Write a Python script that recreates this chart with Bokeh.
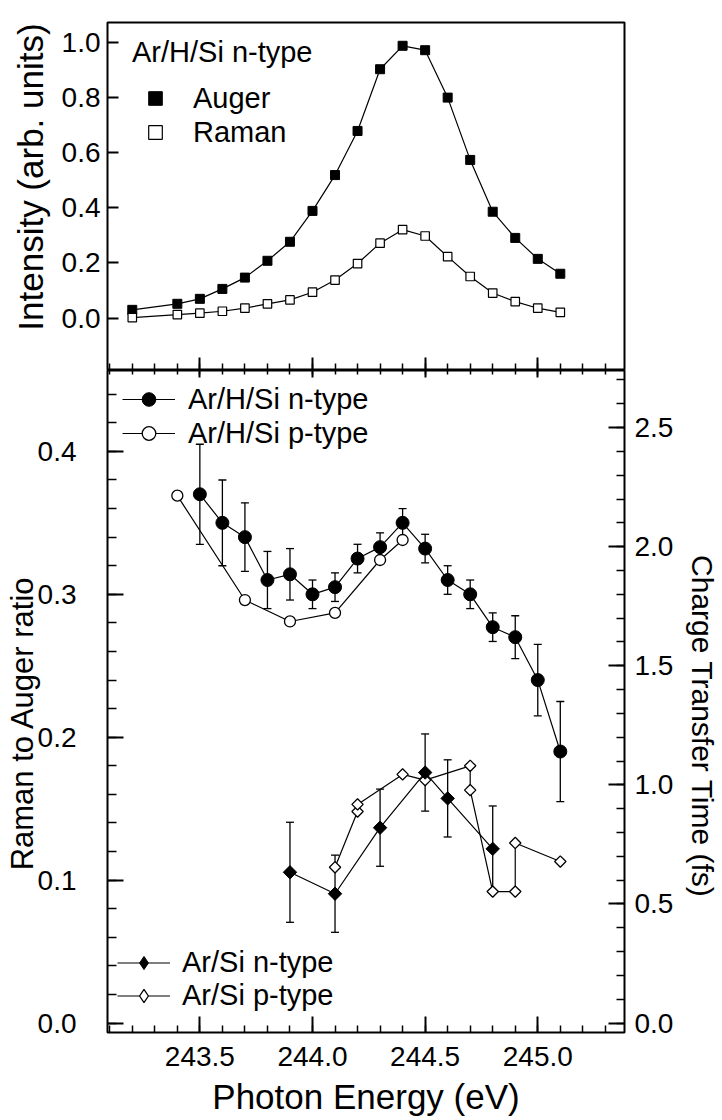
import math
from bokeh.plotting import figure
from bokeh.models import (Range1d, LinearAxis, SingleIntervalTicker, NumeralTickFormatter,
                          Legend, LegendItem, Whisker, TeeHead, ColumnDataSource)
from bokeh.layouts import column
from bokeh.embed import file_html
from bokeh.resources import INLINE

# ---------------- data ----------------
energy_top = [243.2, 243.4, 243.5, 243.6, 243.7, 243.8, 243.9, 244.0, 244.1, 244.2,
              244.3, 244.4, 244.5, 244.6, 244.7, 244.8, 244.9, 245.0, 245.1]
auger = [0.030, 0.052, 0.070, 0.106, 0.147, 0.208, 0.277, 0.389, 0.519, 0.679,
         0.903, 0.988, 0.972, 0.800, 0.574, 0.386, 0.291, 0.215, 0.161]
raman = [0.002, 0.013, 0.018, 0.025, 0.036, 0.052, 0.066, 0.094, 0.138, 0.198,
         0.272, 0.321, 0.298, 0.223, 0.151, 0.091, 0.060, 0.036, 0.021]

arhsi_n_x = [243.5, 243.6, 243.7, 243.8, 243.9, 244.0, 244.1, 244.2, 244.3, 244.4,
             244.5, 244.6, 244.7, 244.8, 244.9, 245.0, 245.1]
arhsi_n = [0.370, 0.350, 0.340, 0.310, 0.314, 0.300, 0.305, 0.325, 0.333, 0.350,
           0.332, 0.310, 0.300, 0.277, 0.270, 0.240, 0.190]
arhsi_n_err = [0.035, 0.030, 0.024, 0.020, 0.018, 0.010, 0.010, 0.010, 0.010, 0.010,
               0.010, 0.010, 0.010, 0.010, 0.015, 0.025, 0.035]

arhsi_p_x = [243.4, 243.7, 243.9, 244.1, 244.3, 244.4]
arhsi_p = [0.369, 0.296, 0.281, 0.287, 0.324, 0.338]

arsi_n_x = [243.9, 244.1, 244.3, 244.5, 244.6, 244.8]
arsi_n = [0.1055, 0.0905, 0.1367, 0.1753, 0.1572, 0.1219]
arsi_n_err = [0.035, 0.027, 0.027, 0.027, 0.027, 0.030]

arsi_p_x = [244.1, 244.2, 244.2, 244.4, 244.5, 244.7, 244.7, 244.8, 244.9, 244.9, 245.1]
arsi_p = [0.109, 0.148, 0.153, 0.174, 0.170, 0.180, 0.163, 0.092, 0.092, 0.126, 0.113]

X_RANGE = (243.09, 245.385)
TOP_Y_RANGE = (-0.19, 1.0725)
BOT_Y_RANGE = (-0.0066, 0.4566)
CTT_PER_RATIO = 6.0   # charge transfer time (fs) per unit Raman/Auger ratio

FONT = "Liberation Sans"
TICK_FS = "28px"
LEG_FS = "29px"
BLACK = "black"
NB = "\u00a0"
NAN = float("nan")

xr = Range1d(*X_RANGE)


def style_axis(ax, tick_in, minor_in, standoff=8, labels=True):
    ax.axis_line_color = None
    ax.major_tick_in = tick_in
    ax.major_tick_out = 0
    ax.minor_tick_in = minor_in
    ax.minor_tick_out = 0
    ax.major_tick_line_width = 2
    ax.minor_tick_line_width = 1.5
    ax.major_tick_line_color = BLACK
    ax.minor_tick_line_color = BLACK if minor_in > 0 else None
    ax.major_label_text_font = FONT
    ax.major_label_text_font_size = TICK_FS
    ax.major_label_text_color = BLACK if labels else None
    ax.major_label_standoff = standoff
    ax.axis_label_text_font = FONT
    ax.axis_label_text_font_style = "normal"
    ax.axis_label_text_color = BLACK


def style_fig(p):
    p.outline_line_color = BLACK
    p.outline_line_width = 2
    p.background_fill_color = "white"
    p.border_fill_color = "white"
    p.grid.visible = False


# ---------------- top panel ----------------
p1 = figure(frame_width=517, frame_height=348, min_border_left=107, min_border_right=96,
            min_border_top=22, min_border_bottom=0, x_range=xr, y_range=Range1d(*TOP_Y_RANGE),
            x_axis_location=None, y_axis_location=None, toolbar_location=None,
            output_backend="svg")
style_fig(p1)

ax = LinearAxis(ticker=SingleIntervalTicker(interval=0.2, num_minor_ticks=0),
                formatter=NumeralTickFormatter(format="0.0"),
                axis_label=NB * 4 + "Intensity (arb. units)")
style_axis(ax, 11, 0, standoff=7)
ax.axis_label_text_font_size = "35px"
ax.axis_label_standoff = 9
p1.add_layout(ax, "left")

axb = LinearAxis(ticker=SingleIntervalTicker(interval=0.5, num_minor_ticks=5),
                 fixed_location=TOP_Y_RANGE[0])
style_axis(axb, 13, 7, labels=False)
p1.add_layout(axb, "below")

p1.line(energy_top, auger, line_color=BLACK, line_width=1.2)
r_aug = p1.scatter(energy_top, auger, marker="square", size=9, fill_color=BLACK,
                   line_color=BLACK)
p1.line(energy_top, raman, line_color=BLACK, line_width=1.2)
r_ram = p1.scatter(energy_top, raman, marker="square", size=8.5, fill_color="white",
                   line_color=BLACK, line_width=1.2)


def style_legend(lg, gw, gh):
    lg.glyph_width = gw
    lg.glyph_height = gh
    lg.label_text_font = FONT
    lg.label_text_font_size = LEG_FS
    lg.label_text_color = BLACK
    lg.label_height = gh
    lg.spacing = 0
    lg.padding = 0
    lg.margin = 0
    lg.border_line_color = None
    lg.background_fill_alpha = 0


leg1 = Legend(items=[LegendItem(label="Auger", renderers=[r_aug]),
                     LegendItem(label="Raman", renderers=[r_ram])],
              title="Ar/H/Si n-type", location=(25, 221))
style_legend(leg1, 46, 34)
leg1.title_text_font = FONT
leg1.title_text_font_size = LEG_FS
leg1.title_text_font_style = "normal"
leg1.title_text_color = BLACK
leg1.title_standoff = 12
leg1.label_standoff = 15
p1.add_layout(leg1)

# ---------------- bottom panel ----------------
p2 = figure(frame_width=517, frame_height=662, min_border_left=107, min_border_right=96,
            min_border_top=0, min_border_bottom=87, x_range=xr, y_range=Range1d(*BOT_Y_RANGE),
            x_axis_location=None, y_axis_location=None, toolbar_location=None,
            output_backend="svg")
style_fig(p2)
p2.extra_y_ranges = {"ctt": Range1d(BOT_Y_RANGE[0] * CTT_PER_RATIO,
                                    BOT_Y_RANGE[1] * CTT_PER_RATIO)}

axl = LinearAxis(ticker=SingleIntervalTicker(interval=0.1, num_minor_ticks=5),
                 formatter=NumeralTickFormatter(format="0.0"),
                 axis_label="Raman to Auger ratio" + NB * 5)
style_axis(axl, 16, 9, standoff=31)
axl.axis_label_text_font_size = "31px"
axl.axis_label_standoff = -5
p2.add_layout(axl, "left")

axr = LinearAxis(y_range_name="ctt",
                 ticker=SingleIntervalTicker(interval=0.5, num_minor_ticks=5),
                 formatter=NumeralTickFormatter(format="0.0"),
                 axis_label=NB * 6 + "Charge Transfer Time (fs)")
style_axis(axr, 16, 8, standoff=10)
axr.axis_label_text_font_size = "30px"
axr.axis_label_standoff = 10
p2.add_layout(axr, "right")

axx = LinearAxis(ticker=SingleIntervalTicker(interval=0.5, num_minor_ticks=5),
                 formatter=NumeralTickFormatter(format="0.0"),
                 axis_label="Photon Energy (eV)")
style_axis(axx, 16, 7, standoff=14)
axx.axis_label_text_font_size = "35px"
axx.axis_label_standoff = 8
p2.add_layout(axx, "below")

axt = LinearAxis(ticker=SingleIntervalTicker(interval=0.5, num_minor_ticks=5),
                 fixed_location=BOT_Y_RANGE[1])
style_axis(axt, 7, 4, labels=False)
p2.add_layout(axt, "above")

# error bars
src_n = ColumnDataSource(dict(x=arhsi_n_x,
                              up=[v + e for v, e in zip(arhsi_n, arhsi_n_err)],
                              lo=[v - e for v, e in zip(arhsi_n, arhsi_n_err)]))
src_s = ColumnDataSource(dict(x=arsi_n_x,
                              up=[v + e for v, e in zip(arsi_n, arsi_n_err)],
                              lo=[v - e for v, e in zip(arsi_n, arsi_n_err)]))
for src in (src_n, src_s):
    w = Whisker(source=src, base="x", upper="up", lower="lo", dimension="height",
                line_color=BLACK, line_width=1.3, level="underlay",
                upper_head=TeeHead(size=8, line_color=BLACK, line_width=1.3),
                lower_head=TeeHead(size=8, line_color=BLACK, line_width=1.3))
    p2.add_layout(w)

l_hn = p2.line(arhsi_n_x, arhsi_n, line_color=BLACK, line_width=1.2)
l_hp = p2.line(arhsi_p_x, arhsi_p, line_color=BLACK, line_width=1.2)
l_sn = p2.line(arsi_n_x, arsi_n, line_color=BLACK, line_width=1.2)
l_sp = p2.line(arsi_p_x, arsi_p, line_color=BLACK, line_width=1.2)

m_hp = p2.scatter(arhsi_p_x, arhsi_p, marker="circle", size=11, fill_color="white",
                  line_color=BLACK, line_width=1.3)
m_hn = p2.scatter(arhsi_n_x, arhsi_n, marker="circle", size=13, fill_color=BLACK,
                  line_color=BLACK)
p2.scatter(arsi_p_x, arsi_p, marker="square", angle=math.pi / 4, size=8,
           fill_color="white", line_color=BLACK, line_width=1.3)
p2.scatter(arsi_n_x, arsi_n, marker="square", angle=math.pi / 4, size=9.5,
           fill_color=BLACK, line_color=BLACK)
# legend-only diamond glyphs (a legend draws markers unrotated); NaN -> nothing plotted
lg_sn = p2.scatter([NAN], [NAN], marker="diamond", fill_color=BLACK, line_color=BLACK)
lg_sp = p2.scatter([NAN], [NAN], marker="diamond", fill_color="white", line_color=BLACK,
                   line_width=1.3)

leg2 = Legend(items=[LegendItem(label="Ar/H/Si n-type", renderers=[l_hn, m_hn]),
                     LegendItem(label="Ar/H/Si p-type", renderers=[l_hp, m_hp])],
              location=(15, 582))
style_legend(leg2, 53, 34)
leg2.label_standoff = 13
p2.add_layout(leg2)

leg3 = Legend(items=[LegendItem(label="Ar/Si n-type", renderers=[l_sn, lg_sn]),
                     LegendItem(label="Ar/Si p-type", renderers=[l_sp, lg_sp])],
              location=(10, 20))
style_legend(leg3, 53, 33)
leg3.label_standoff = 12
p2.add_layout(leg3)

layout = column(p1, p2, spacing=0)
open("out.html", "w").write(file_html(layout, INLINE))
